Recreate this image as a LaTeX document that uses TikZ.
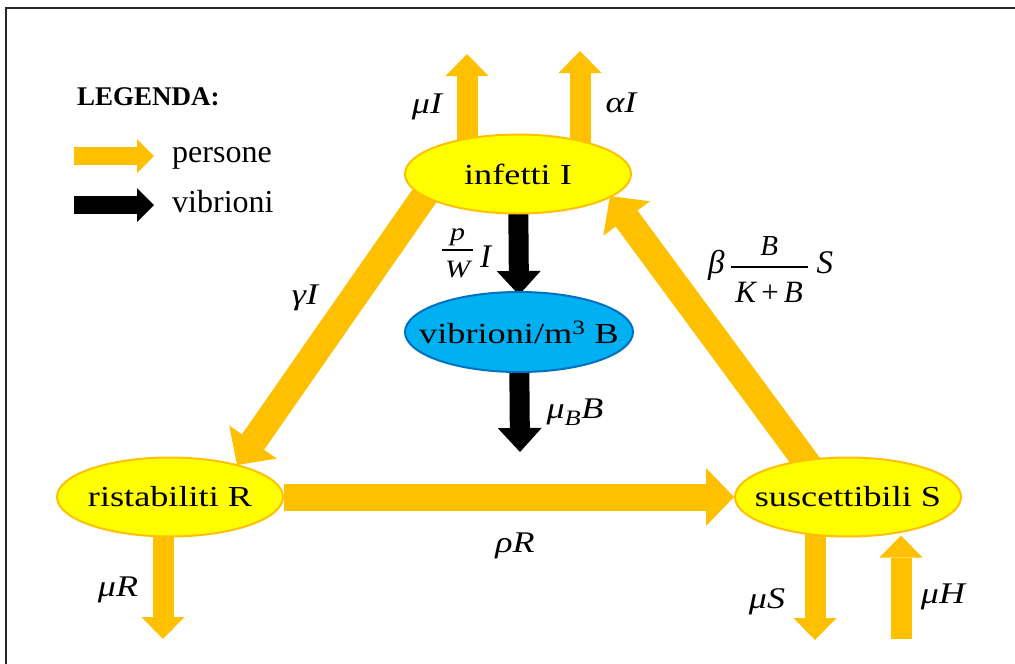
\documentclass[tikz,border=0pt]{standalone}
\usepackage{fontspec}
\usepackage{graphicx}
\setmainfont{Liberation Serif}
\usetikzlibrary{shapes.geometric,arrows.meta,backgrounds}
\definecolor{pOrange}{HTML}{FFC000}
\definecolor{pYellow}{HTML}{FFFF00}
\definecolor{vBlue}{HTML}{00B0F0}
\definecolor{vBorder}{HTML}{0070C0}
\newcommand{\zw}[1]{\makebox[0pt][c]{\scalebox{1.25}[1]{#1}}}
\newcommand{\xs}[1]{\scalebox{1.2}[1]{#1}}
\tikzset{
  yel/.style={ellipse, draw=pOrange, line width=2pt, fill=pYellow, inner sep=0pt,
    minimum width=226pt, minimum height=79pt, font=\fontsize{29}{34}\selectfont},
  blu/.style={ellipse, draw=vBorder, line width=2pt, fill=vBlue, inner sep=0pt,
    minimum width=228pt, minimum height=80pt, font=\fontsize{29}{34}\selectfont},
  pers/.style={draw=pOrange, line width=21pt, -{Triangle[width=43pt,length=22pt,line width=0pt]}},
  persbig/.style={draw=pOrange, line width=27pt, -{Triangle[width=58pt,length=28pt,line width=0pt]}},
  vib/.style={draw=black, line width=20pt, -{Triangle[width=44pt,length=24pt,line width=0pt]}},
  legp/.style={draw=pOrange, line width=18pt, -{Triangle[width=34pt,length=17pt,line width=0pt]}},
  legv/.style={draw=black, line width=18pt, -{Triangle[width=34pt,length=17pt,line width=0pt]}},
  lab/.style={inner sep=0pt, font=\fontsize{30}{34}\selectfont\itshape},
  legtxt/.style={inner sep=0pt, anchor=base west, font=\fontsize{32}{36}\selectfont},
}
\begin{document}
\begin{tikzpicture}[x=1pt,y=-1pt]
\useasboundingbox (0,0) rectangle (1015,664);
% frame
\draw[line width=2.5pt, black!85] (6,664) -- (6,8) -- (1015,8);

% compartments
\node[yel] (I) at (518,174) {\zw{infetti I}};
\node[blu] (B) at (519,332) {\zw{vibrioni/m\textsuperscript{3} B}};
\node[yel] (R) at (170,497) {\zw{ristabiliti R}};
\node[yel] (S) at (848,497) {\zw{suscettibili S}};

% free ends
\coordinate (muIt) at (467,54);
\coordinate (aIt) at (580,51);
\coordinate (muBt) at (520,452);
\coordinate (gA) at (432,185);
\coordinate (gTip) at (237,465);
\coordinate (bA) at (818,478);
\coordinate (bTip) at (610,196);
\coordinate (muRt) at (163,639);
\coordinate (muSt) at (815,640);
\coordinate (muHb) at (901,639);
\coordinate (lp1) at (74,156);
\coordinate (lp2) at (154,156);
\coordinate (lv1) at (74,205);
\coordinate (lv2) at (154,205);

\begin{scope}[on background layer]
  \draw[pers] (muIt |- I.center) -- (muIt);
  \draw[pers] (aIt |- I.center) -- (aIt);
  \draw[vib] (I.center) -- ([yshift=-4pt]B.north);
  \draw[vib] (B.center) -- (muBt);
  \draw[persbig] (gA) -- (gTip);
  \draw[persbig] (bA) -- (bTip);
  \draw[persbig] (R.east) -- (S.west);
  \draw[pers] (muRt |- R.center) -- (muRt);
  \draw[pers] (muSt |- S.center) -- (muSt);
  \draw[pers] (muHb) -- ([yshift=2pt]muHb |- S.south);
\end{scope}

% legend
\node[inner sep=0pt, anchor=base west, font=\fontsize{27}{30}\selectfont\bfseries] (leg) at (77,105) {LEGENDA:};
\draw[legp] (lp1) -- (lp2);
\draw[legv] (lv1) -- (lv2);
\node[legtxt] (lgP) at (172,162) {persone};
\node[legtxt] (lgV) at (172,212) {vibrioni};

% labels
\node[lab] (lmuI) at (427,107) {\xs{μI}};
\node[lab] (laI) at (621,103) {\xs{αI}};
\node[lab] (lgI) at (305,298) {\xs{γI}};
\node[lab] (lrR) at (515,546) {\xs{ρR}};
\node[lab] (lmuR) at (118,590) {\xs{μR}};
\node[lab] (lmuS) at (767,602) {\xs{μS}};
\node[lab] (lmuH) at (943,597) {\xs{μH}};
\node[lab] (lmuB) at (575,412) {\xs{μ\raisebox{-0.22em}{\fontsize{22}{25}\selectfont B}\kern0.5pt B}};
\node[inner sep=0pt, anchor=base west] (lpW) at (442,267)
  {{\fontsize{25}{28}\selectfont\itshape
    \rlap{\raisebox{27pt}{\makebox[31pt]{\scalebox{1.2}[1]{p}}}}%
    \rlap{\raisebox{-10pt}{\makebox[31pt]{\scalebox{1.2}[1]{W}}}}%
    \raisebox{16.25pt}{\rule{31pt}{1.5pt}}}%
   \hspace{7pt}{\fontsize{33}{36}\selectfont\itshape I}};
\node[inner sep=0pt, anchor=base west, font=\fontsize{33}{36}\selectfont\itshape] (lbeta) at (708,273)
  {β\hspace{6pt}%
   \rlap{\raisebox{18pt}{\makebox[77pt]{\fontsize{29}{31}\selectfont B}}}%
   \rlap{\raisebox{-29pt}{\makebox[77pt]{\fontsize{31}{34}\selectfont K\,\upshape+\,\itshape B}}}%
   \raisebox{5.25pt}{\rule{77pt}{1.5pt}}\hspace{9pt}S};
\end{tikzpicture}
\end{document}
